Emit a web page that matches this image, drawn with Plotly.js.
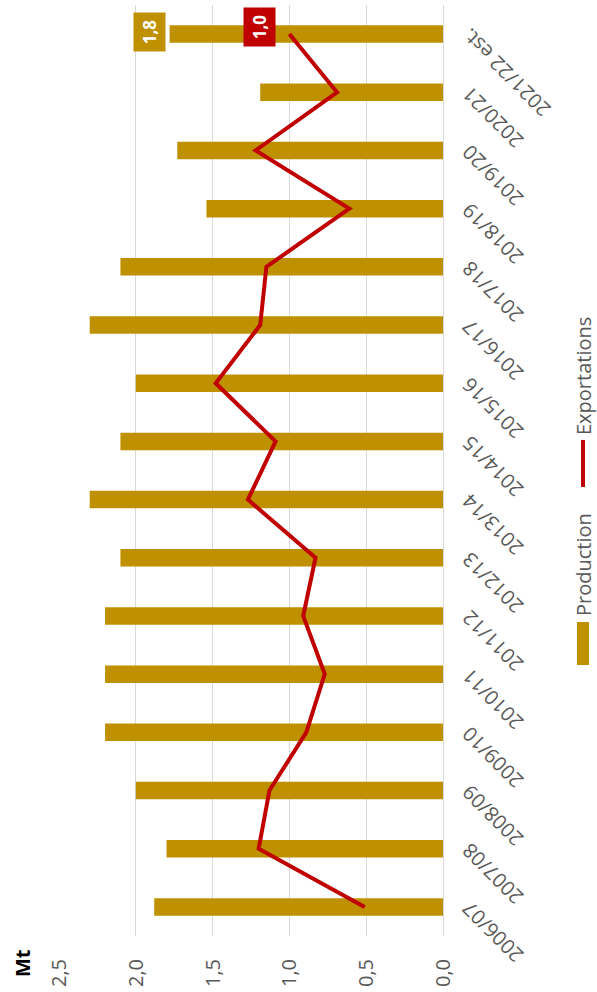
<!DOCTYPE html>
<html>
<head>
<meta charset="utf-8">
<script src="https://cdn.plot.ly/plotly-3.0.1.min.js"></script>
<style>
  html, body { margin: 0; padding: 0; background: #fff; overflow: hidden; }
  #wrap { position: absolute; left: 0; top: 0; width: 992px; height: 597px;
          transform-origin: 0 0; transform: translateY(992px) rotate(-90deg); }
  #chart { width: 992px; height: 597px; }
</style>
</head>
<body>
<div id="wrap"><div id="chart"></div></div>
<script>
const categories = ['2006/07','2007/08','2008/09','2009/10','2010/11','2011/12','2012/13','2013/14',
                    '2014/15','2015/16','2016/17','2017/18','2018/19','2019/20','2020/21','2021/22 est.'];
const production   = [1.88, 1.80, 2.00, 2.20, 2.20, 2.20, 2.10, 2.30, 2.10, 2.00, 2.30, 2.10, 1.54, 1.73, 1.19, 1.78];
const exportations = [0.51, 1.20, 1.13, 0.89, 0.77, 0.91, 0.83, 1.27, 1.09, 1.48, 1.19, 1.15, 0.61, 1.22, 0.69, 1.00];
const valueTicks = [0, 0.5, 1, 1.5, 2, 2.5];
const seriesNames = ['Production', 'Exportations'];

const GOLD = '#BF9000', RED = '#C00000', GREY = '#595959';
const FONT = 'Open Sans, sans-serif';
const fmt = v => v.toFixed(1).replace('.', ',');
const last = categories.length - 1;

const traces = [
  { type: 'bar', x: categories, y: production, name: seriesNames[0], width: 0.3,
    marker: { color: GOLD }, hoverinfo: 'skip' },
  { type: 'scatter', mode: 'lines', x: categories, y: exportations, name: seriesNames[1],
    line: { color: RED, width: 4 }, hoverinfo: 'skip' }
];

// legend (paper coordinates)
const LY = -0.3646;
const legendShapes = [
  { type: 'rect', xref: 'paper', yref: 'paper', x0: 0.2911, x1: 0.3373, y0: LY - 0.0156, y1: LY + 0.0156,
    fillcolor: GOLD, line: { width: 0 } },
  { type: 'line', xref: 'paper', yref: 'paper', x0: 0.4823, x1: 0.5328, y0: LY, y1: LY,
    line: { color: RED, width: 4 } }
];
const legendTexts = [
  { xref: 'paper', yref: 'paper', x: 0.3420, y: LY, xanchor: 'left', yanchor: 'middle',
    text: seriesNames[0], showarrow: false, font: { size: 20, color: GREY } },
  { xref: 'paper', yref: 'paper', x: 0.5355, y: LY, xanchor: 'left', yanchor: 'middle',
    text: seriesNames[1], showarrow: false, font: { size: 20, color: GREY } }
];

const layout = {
  width: 992, height: 597,
  margin: { l: 56, r: 5, t: 59, b: 154 },
  paper_bgcolor: '#fff', plot_bgcolor: '#fff',
  separators: ',.',
  font: { family: FONT, color: GREY, size: 20 },
  showlegend: false,
  xaxis: { type: 'category', tickangle: -45, showgrid: false, showline: false, zeroline: false,
           ticks: '', tickfont: { size: 20, color: GREY }, ticklabelstandoff: 10, automargin: false,
           range: [-0.5, last + 0.5] },
  yaxis: { range: [0, 2.5], tickvals: valueTicks, tickformat: '.1f', showgrid: true,
           gridcolor: '#D9D9D9', gridwidth: 1, zeroline: true, zerolinecolor: '#D9D9D9',
           zerolinewidth: 1, showline: false, ticks: '', ticklabelstandoff: 22, automargin: false,
           tickfont: { size: 20, color: GREY } },
  shapes: legendShapes,
  annotations: [
    { xref: 'paper', yref: 'paper', x: -0.046, y: 1.136, xanchor: 'left', yanchor: 'top',
      text: '<b>Mt</b>', showarrow: false, font: { size: 20, color: '#000' } },
    { x: categories[last], y: production[last], text: '<b>' + fmt(production[last]) + '</b>',
      showarrow: false, yanchor: 'bottom', yshift: 4, xshift: 2, bgcolor: GOLD,
      font: { color: '#fff', size: 17 }, borderpad: 4, width: 30 },
    { x: categories[last], y: exportations[last], text: '<b>' + fmt(exportations[last]) + '</b>',
      showarrow: false, yanchor: 'bottom', yshift: 13, xshift: 7, bgcolor: RED,
      font: { color: '#fff', size: 17 }, borderpad: 4, width: 30 }
  ].concat(legendTexts)
};

Plotly.newPlot('chart', traces, layout, { staticPlot: true, displayModeBar: false });
</script>
</body>
</html>
